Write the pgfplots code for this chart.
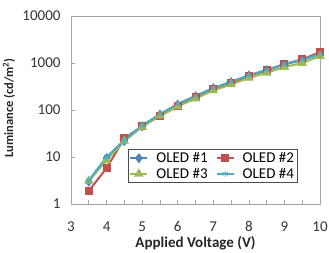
\documentclass[border=0pt]{standalone}
\usepackage{pgfplots}
\pgfplotsset{compat=1.18}
\usepackage{fontspec}
\setmainfont{Carlito}

\definecolor{oblue}{HTML}{4F81BD}
\definecolor{ored}{HTML}{C0504D}
\definecolor{ogreen}{HTML}{9BBB59}
\definecolor{ocyan}{HTML}{4BACC6}
\definecolor{frame}{HTML}{A6A6A6}

\begin{document}
\begin{tikzpicture}
\useasboundingbox (-71pt,-48pt) rectangle (258pt,204pt);
\begin{axis}[
  at={(0,0)}, anchor=south west,
  scale only axis, width=249pt, height=188pt,
  xmin=3, xmax=10, ymin=1, ymax=10000,
  ymode=log,
  log basis y=10,
  xtick={3,4,...,10},
  minor xtick={3.5,4.5,...,9.5},
  ytick={1,10,100,1000,10000},
  yticklabels={1,10,100,1000,10000},
  tick pos=left,
  tick align=inside,
  axis line style={frame, line width=0.8pt},
  tick style={frame, line width=0.6pt},
  major tick length=4pt, minor tick length=4pt,
  /pgf/number format/assume math mode=true,
  ticklabel style={font=\fontsize{15}{17}\selectfont, text=black!80},
  xticklabel style={yshift=-14pt},
  yticklabel style={xshift=-7pt},
  xlabel={Applied Voltage (V)},
  ylabel={Luminance (cd/m\textsuperscript{2})},
  xlabel style={font=\fontsize{15}{17}\selectfont\bfseries, text=black!85,
    at={(axis description cs:0.5,0)}, anchor=base, yshift=-43pt},
  ylabel style={font=\fontsize{12.5}{15}\selectfont\bfseries, text=black!85,
    at={(axis description cs:0,0.51)}, anchor=center, yshift=62pt},
  every axis plot/.append style={line width=2pt, mark size=3pt},
  legend columns=2,
  legend style={at={(rel axis cs:0.229,0.112)}, anchor=south west,
    draw=black!70, line width=0.6pt, font=\fontsize{15}{17}\selectfont,
    inner sep=1pt, column sep=6pt},
  legend cell align=left,
]
% OLED #1
\addplot[color=oblue, mark=diamond*, mark size=3.5pt] coordinates {
 (3.5,3.0) (4,9.5) (4.5,22) (5,45) (5.5,80) (6,130) (6.5,195) (7,290)
 (7.5,390) (8,540) (8.5,700) (9,930) (9.5,1150) (10,1550)};
\addlegendentry{OLED \#1}
% OLED #2
\addplot[color=ored, mark=square*, mark size=3pt] coordinates {
 (3.5,1.9) (4,5.8) (4.5,25) (5,45) (5.5,75) (6,120) (6.5,185) (7,280)
 (7.5,380) (8,530) (8.5,700) (9,950) (9.5,1200) (10,1700)};
\addlegendentry{OLED \#2}
% OLED #3
\addplot[color=ogreen, mark=triangle*, mark size=3.5pt] coordinates {
 (3.5,3.1) (4,8.5) (4.5,22) (5,44) (5.5,75) (6,120) (6.5,175) (7,260)
 (7.5,350) (8,480) (8.5,620) (9,820) (9.5,1000) (10,1400)};
\addlegendentry{OLED \#3}
% OLED #4
\addplot[color=ocyan, mark=asterisk, mark size=3pt,
  mark options={line width=0.8pt}] coordinates {
 (3.5,3.2) (4,10) (4.5,23) (5,47) (5.5,82) (6,135) (6.5,200) (7,295)
 (7.5,400) (8,550) (8.5,720) (9,950) (9.5,1180) (10,1550)};
\addlegendentry{OLED \#4}
\end{axis}
\end{tikzpicture}
\end{document}
